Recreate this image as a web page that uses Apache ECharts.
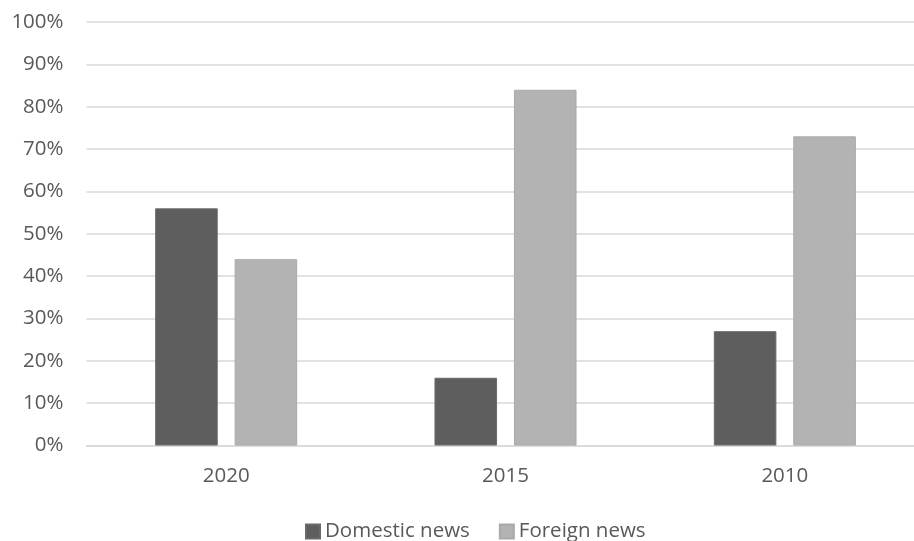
<!DOCTYPE html>
<html>
<head>
<meta charset="utf-8">
<script src="https://cdn.jsdelivr.net/npm/echarts@6/dist/echarts.min.js"></script>
<style>
  html, body { margin: 0; padding: 0; background: #ffffff; }
  #chart { width: 914px; height: 541px; }
</style>
</head>
<body>
<div id="chart"></div>
<script>
// Share of news coverage by year
const categories = ['2020', '2015', '2010'];
const domesticNews = [56, 16, 27];
const foreignNews = [44, 84, 73];
const yTicks = [0, 10, 20, 30, 40, 50, 60, 70, 80, 90, 100];

const textColor = '#595959';
const fontFamily = '"Open Sans", "Noto Sans", sans-serif';
const fontSize = 20.5;

const chart = echarts.init(document.getElementById('chart'), null, { renderer: 'canvas' });
chart.setOption({
  animation: false,
  backgroundColor: '#ffffff',
  grid: {
    left: 86.5, width: 838, top: 22, bottom: 95.5,
    containLabel: false, outerBoundsMode: 'none'
  },
  legend: {
    top: 516,
    left: 300,
    itemWidth: 14,
    itemHeight: 14,
    itemGap: 29,
    icon: 'rect',
    textStyle: { color: textColor, fontSize: fontSize, fontFamily: fontFamily },
    data: ['Domestic news', 'Foreign news']
  },
  xAxis: {
    type: 'category',
    data: categories,
    axisLine: { lineStyle: { color: '#d9d9d9', width: 1.5 } },
    axisTick: { show: false },
    axisLabel: { color: textColor, fontSize: fontSize, fontFamily: fontFamily, margin: 20 }
  },
  yAxis: {
    type: 'value',
    min: yTicks[0],
    max: yTicks[yTicks.length - 1],
    interval: 10,
    axisLine: { show: false },
    axisTick: { show: false },
    splitLine: { lineStyle: { color: '#d9d9d9', width: 1.5 } },
    axisLabel: {
      color: textColor, fontSize: fontSize, fontFamily: fontFamily, margin: 23,
      formatter: v => v + '%'
    }
  },
  series: [
    {
      name: 'Domestic news',
      type: 'bar',
      data: domesticNews,
      barWidth: '22.4%',
      barGap: '27%',
      itemStyle: { color: '#5e5e5e', borderColor: '#6a6a6a', borderWidth: 1 }
    },
    {
      name: 'Foreign news',
      type: 'bar',
      data: foreignNews,
      barWidth: '22.4%',
      itemStyle: { color: '#b3b3b3', borderColor: '#a9a9a9', borderWidth: 1 }
    }
  ]
});
</script>
</body>
</html>
